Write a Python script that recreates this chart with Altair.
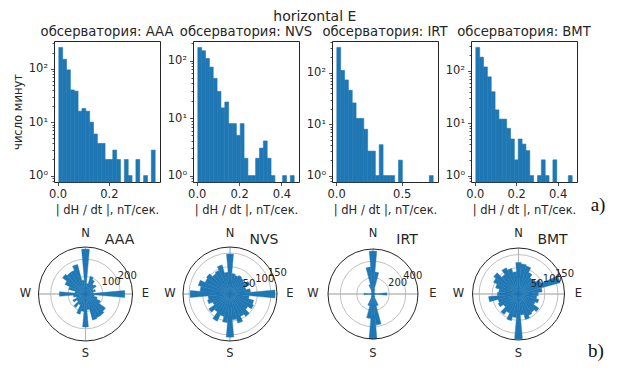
import numpy as np
import pandas as pd
import altair as alt

OBS = ["AAA", "NVS", "IRT", "BMT"]

# ---- histograms (25 bins between lo and hi) ----
HIST_LO = [0.005, 0.005, 0.005, 0.005]
HIST_HI = [0.38, 0.46, 0.74, 0.47]
COUNTS_AAA = [250, 150, 95, 40, 38, 16, 18, 16, 10, 6, 4, 4, 2, 2, 3, 2, 0, 2, 1, 0, 2, 0, 1, 0, 3]
COUNTS_NVS = [169, 148, 109, 77, 49, 29, 15, 19, 8, 8, 5, 8, 2, 1, 1, 2, 3, 4, 2, 1, 0, 0, 1, 0, 1]
COUNTS_IRT = [314, 112, 73, 46, 26, 13, 13, 8, 3, 3, 1, 4, 1, 1, 1, 0, 2, 0, 0, 0, 0, 0, 0, 0, 1]
COUNTS_BMT = [281, 183, 119, 77, 40, 18, 12, 12, 8, 5, 2, 5, 4, 3, 1, 0, 1, 2, 1, 0, 2, 0, 0, 0, 1]
COUNTS = [COUNTS_AAA, COUNTS_NVS, COUNTS_IRT, COUNTS_BMT]
X_TICKS = [[0.0, 0.2], [0.0, 0.2, 0.4], [0.0, 0.5], [0.0, 0.2, 0.4]]

# ---- rose diagrams (36 sectors, azimuth clockwise from N) ----
DIRS = list(range(0, 360, 10))
ROSE_AAA = [258, 60, 105, 90, 68, 75, 50, 60, 45, 226, 50, 70, 95, 140, 150, 150, 155, 90,
            190, 100, 120, 70, 95, 60, 80, 55, 70, 150, 60, 100, 130, 161, 150, 150, 176, 80]
ROSE_NVS = [146, 75, 70, 75, 70, 65, 80, 60, 75, 165, 70, 90, 95, 80, 100, 90, 110, 95,
            158, 105, 85, 110, 80, 95, 70, 85, 80, 146, 110, 120, 100, 105, 90, 95, 110, 80]
ROSE_IRT = [525, 270, 60, 30, 20, 15, 15, 20, 30, 170, 30, 20, 15, 15, 20, 40, 150, 380,
            550, 300, 150, 40, 20, 15, 15, 20, 30, 110, 30, 20, 15, 15, 20, 40, 120, 330]
ROSE_BMT = [120, 115, 110, 90, 75, 80, 95, 164, 90, 75, 70, 80, 70, 95, 85, 90, 100, 80,
            171, 90, 105, 80, 95, 70, 85, 80, 114, 80, 75, 90, 105, 115, 90, 110, 100, 85]
ROSE = [ROSE_AAA, ROSE_NVS, ROSE_IRT, ROSE_BMT]
RMAX = [270, 172, 550, 175]
R_TICKS = [[100, 200], [50, 100, 150], [200, 400], [50, 100, 150]]
COMPASS = ["N", "E", "S", "W"]
COMPASS_AZ = [0, 90, 180, 270]

BLUE = "#1f77b4"
INK = "#262626"
FONT = "DejaVu Sans"

HW, HH = 106, 141
PW = [63, 74, 82, 95]
PH = 100
PR = [47, 47, 45, 46]


def hist_chart(i):
    counts = COUNTS[i]
    lo, hi = HIST_LO[i], HIST_HI[i]
    edges = np.linspace(lo, hi, len(counts) + 1)
    L = np.log10(max(counts))
    ylo, yhi = 10 ** (-0.05 * L), 10 ** (1.05 * L)
    df = pd.DataFrame({"x0": edges[:-1], "x1": edges[1:], "n": counts})
    df = df[df["n"] > 0].copy()
    df["base"] = ylo
    span = hi - lo
    xdom = [lo - 0.05 * span, hi + 0.05 * span]
    majors = [10.0 ** k for k in range(-1, 4) if ylo <= 10.0 ** k <= yhi]
    minors = [m * 10.0 ** k for k in range(-1, 4) for m in range(2, 10)
              if ylo <= m * 10.0 ** k <= yhi]
    yaxis = alt.Axis(
        values=sorted(majors + minors),
        labelExpr="datum.value == 1 ? '10⁰' : datum.value == 10 ? '10¹' : datum.value == 100 ? '10²' : ''",
        tickSize={"condition": {"test": "datum.value == 1 || datum.value == 10 || datum.value == 100",
                                "value": 3.5}, "value": 2},
        title="число минут" if i == 0 else None,
        titlePadding=5,
    )
    bars = alt.Chart(df).mark_bar(color=BLUE, stroke=BLUE, strokeWidth=0.6).encode(
        x=alt.X("x0:Q", scale=alt.Scale(domain=xdom, nice=False, zero=False),
                axis=alt.Axis(values=X_TICKS[i], format=".1f",
                              title="| dH / dt |, nT/сек.", titlePadding=4)),
        x2="x1:Q",
        y=alt.Y("n:Q", scale=alt.Scale(type="log", domain=[ylo, yhi], nice=False), axis=yaxis),
        y2="base:Q",
    )
    layers = [bars]
    if i == 3:
        layers.append(
            alt.Chart(pd.DataFrame({"t": ["a)"]})).mark_text(
                font="Liberation Serif", fontSize=19, color="#111111",
                align="center", baseline="middle"
            ).encode(x=alt.value(127), y=alt.value(164), text="t:N")
        )
    return alt.layer(*layers).properties(
        width=HW, height=HH,
        title=alt.TitleParams(f"обсерватория: {OBS[i]}", frame="group", offset=2),
        view=alt.ViewBackground(stroke=INK, strokeWidth=1),
    )


def rose_chart(i):
    rmax, R = RMAX[i], PR[i]
    tsc = alt.Scale(domain=[0, 360], range=[0, 2 * np.pi])
    rsc = alt.Scale(type="linear", domain=[0, rmax], range=[0, R], nice=False, zero=True)

    def th(f):
        return alt.Theta(f, type="quantitative", scale=tsc, stack=False)

    def rr(f):
        return alt.Radius(f, type="quantitative", scale=rsc)

    bdf = pd.DataFrame({"az": DIRS, "n": ROSE[i]})
    bdf["a0"] = bdf["az"] - 5
    bdf["a1"] = bdf["az"] + 5
    gdf = pd.DataFrame({"r": R_TICKS[i]})
    gdf["t0"] = 0
    gdf["t1"] = 360
    sdf = pd.DataFrame({"t0": COMPASS_AZ})
    sdf["t1"] = sdf["t0"] + 0.05
    sdf["r"] = rmax
    odf = pd.DataFrame({"t0": [0], "t1": [360], "r": [rmax]})
    ldf = pd.DataFrame({"r": R_TICKS[i], "lab": [str(v) for v in R_TICKS[i]]})
    ldf["t"] = 67.5
    cdf = pd.DataFrame({"t": COMPASS_AZ, "lab": COMPASS})
    cdf["r"] = rmax * 60.0 / R

    grid = alt.Chart(gdf).mark_arc(filled=False, stroke="#b0b0b0", strokeWidth=0.8).encode(
        theta=th("t0"), theta2=alt.Theta2("t1"), radius=rr("r"))
    spokes = alt.Chart(sdf).mark_arc(filled=False, stroke="#b0b0b0", strokeWidth=0.8).encode(
        theta=th("t0"), theta2=alt.Theta2("t1"), radius=rr("r"))
    bars = alt.Chart(bdf).mark_arc(color=BLUE, stroke=BLUE, strokeWidth=0.4).encode(
        theta=th("a0"), theta2=alt.Theta2("a1"), radius=rr("n"))
    outer = alt.Chart(odf).mark_arc(filled=False, stroke=INK, strokeWidth=1).encode(
        theta=th("t0"), theta2=alt.Theta2("t1"), radius=rr("r"))
    rlab = alt.Chart(ldf).mark_text(align="left", baseline="bottom", fontSize=10,
                                    color=INK, font=FONT).encode(
        theta=th("t"), radius=rr("r"), text="lab:N")
    clab = alt.Chart(cdf).mark_text(align="center", baseline="middle", fontSize=11.5,
                                    color=INK, font=FONT).encode(
        theta=th("t"), radius=rr("r"), text="lab:N")
    layers = [grid, spokes, bars, outer, rlab, clab]
    if i == 3:
        layers.append(
            alt.Chart(pd.DataFrame({"t": ["b)"]})).mark_text(
                font="Liberation Serif", fontSize=19, color="#111111",
                align="center", baseline="middle"
            ).encode(x=alt.value(125), y=alt.value(107), text="t:N")
        )
    return alt.layer(*layers).properties(
        width=PW[i], height=PH,
        title=alt.TitleParams(OBS[i], frame="group", dx=34, offset=-19, fontSize=14),
    )


charts = [hist_chart(i) for i in range(4)] + [rose_chart(i) for i in range(4)]

chart = alt.concat(
    *charts, columns=4, spacing={"row": 62, "column": 33}, bounds="flush", align="each"
).properties(
    title=alt.TitleParams("horizontal E", fontSize=14, anchor="middle", offset=0, dx=6),
    padding={"top": 2, "left": 3, "right": 3, "bottom": 3},
).configure_view(
    stroke="transparent"
).configure_axis(
    grid=False, domain=False, tickColor=INK, tickSize=3.5, tickWidth=0.8,
    labelColor=INK, labelFont=FONT, labelFontSize=11.5, labelPadding=3, labelFlush=False,
    titleFont=FONT, titleFontSize=11.5, titleFontWeight="normal", titleColor=INK,
).configure_title(
    font=FONT, fontSize=13.2, fontWeight="normal", color=INK
)

chart.save("out.html", embed_options={"renderer": "svg", "actions": False})
